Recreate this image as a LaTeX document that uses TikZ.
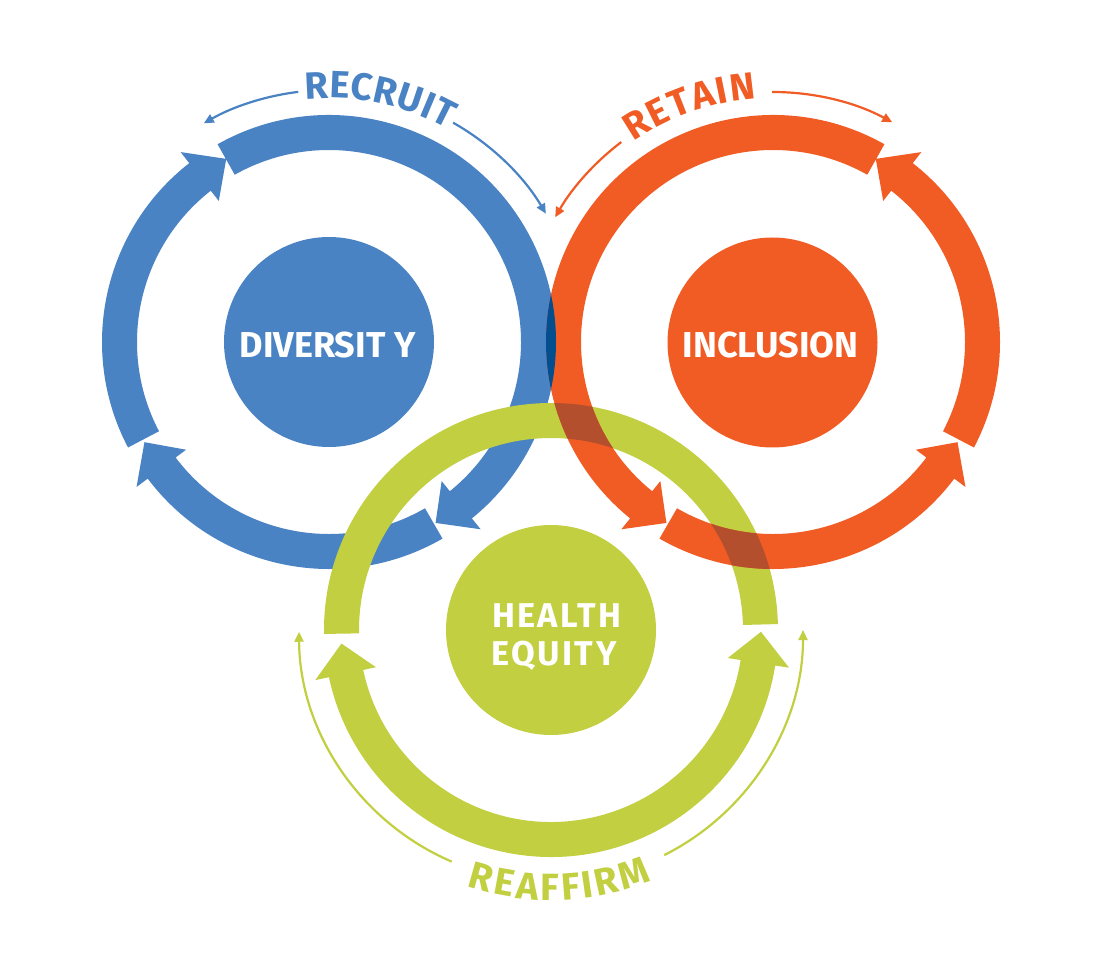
\documentclass[tikz,border=0pt]{standalone}
\usepackage{fontspec}
\setmainfont{Fira Sans}
\usetikzlibrary{arrows.meta}
\definecolor{dblue}{RGB}{74,131,196}
\definecolor{dorange}{RGB}{241,92,37}
\definecolor{dgreen}{RGB}{193,207,64}
\definecolor{dnavy}{RGB}{3,78,142}
\definecolor{dbrown}{RGB}{180,79,46}
\newcommand\lblfont{\fontsize{38}{38}\selectfont\bfseries}
\newcommand\ctrfont{\fontsize{36}{36}\selectfont\bfseries}
\newsavebox\lettbox
\newcommand\lettmeasure[1]{\pgfinterruptpicture\sbox\lettbox{\lblfont #1}\xdef\lwid{\the\wd\lettbox}\endpgfinterruptpicture}
% ring segment with arrowhead: center, start angle, end angle, tip angle
\newcommand\ringseg[4]{([shift={(#1)}]#2:227) arc[start angle=#2,end angle=#3,radius=227] -- ([shift={(#1)}]#3:241) -- ([shift={(#1)}]#4:210) -- ([shift={(#1)}]#3:179) -- ([shift={(#1)}]#3:192) arc[start angle=#3,end angle=#2,radius=192] -- cycle}
\newcommand\bluepath{\ringseg{B}{119.4}{-51}{-59.5} \ringseg{B}{-60}{-143}{-151.5} \ringseg{B}{-152.3}{-232}{-240.7}}
\newcommand\orangepath{\ringseg{O}{60.6}{231}{239.5} \ringseg{O}{240}{323}{331.5} \ringseg{O}{332.3}{412}{420.7}}
\newcommand\greenpath{([shift={(G)}]181:227) arc[start angle=181,end angle=1.5,radius=227] -- ([shift={(G)}]1.5:192) arc[start angle=1.5,end angle=181,radius=192] -- cycle
 ([shift={(G)}]183.7:210) -- ([shift={(G)}]192:179) -- ([shift={(G)}]192:192) arc[start angle=192,end angle=351,radius=192] -- ([shift={(G)}]351:179) -- ([shift={(G)}]359.5:210) -- ([shift={(G)}]351:241) -- ([shift={(G)}]351:227) arc[start angle=351,end angle=192,radius=227] -- ([shift={(G)}]192:241) -- cycle}
% letters of a word along an arc: center, radius, mid angle, tracking, letters, colour, direction (-1 top, +1 bottom)
\newcommand\arcword[7]{%
  \begingroup
  \xdef\ltw{0}%
  \foreach \lt in {#5}{\lettmeasure{\lt}\pgfmathsetmacro\ltmp{\ltw+\lwid+#4}\xdef\ltw{\ltmp}}%
  \pgfmathsetmacro\ltmp{\ltw-#4}\xdef\ltw{\ltmp}%
  \xdef\lcum{0}%
  \foreach \lt [count=\li] in {#5}{%
    \lettmeasure{\lt}%
    \pgfmathsetmacro\lw{\lwid}%
    \pgfmathsetmacro\la{#3+(#7)*(\lcum+\lw/2-\ltw/2)/#2*180/pi}%
    \node[lbl,text=#6,rotate={\la+(#7)*90}] (#1w\li) at ([shift={(#1)}]\la:#2) {\lt};
    \pgfmathsetmacro\ltmp{\lcum+\lw+#4}\xdef\lcum{\ltmp}%
  }%
  \endgroup}
\tikzset{
  thinarr/.style={line width=2.2pt,-{Triangle[length=10pt,width=9pt]}},
  hub/.style={circle,minimum size=210pt,inner sep=0pt},
  hubtext/.style={text=white,font=\ctrfont,inner sep=0pt},
  lbl/.style={font=\lblfont,inner sep=0pt,anchor=center}
}
\begin{document}
\begin{tikzpicture}[x=1pt,y=1pt]
\useasboundingbox (0,0) rectangle (1108,962);
\fill[white] (0,0) rectangle (1108,962);
\coordinate (B) at (329,620);
\coordinate (O) at (773,620);
\coordinate (G) at (551,332);
% rings
\fill[dblue] \bluepath;
\fill[dgreen] \greenpath;
\fill[dorange] \orangepath;
\begin{scope}
  \clip \greenpath;
  \fill[dbrown] \orangepath;
\end{scope}
\begin{scope}
  \clip \bluepath;
  \fill[dnavy] \orangepath;
\end{scope}
% hubs
\node[hub,fill=dblue] (hubB) at (B) {};
\node[hub,fill=dorange] (hubO) at (772.5,619.5) {};
\node[hub,fill=dgreen] (hubG) at (G) {};
\node[hubtext,anchor=base] (tdiv) at (327.5,604) {DIVERSIT Y};
\node[hubtext,anchor=base] (tinc) at (770.5,604.3) {INCLUSION};
\node[hubtext,anchor=base,font=\fontsize{34.4}{34.4}\selectfont\bfseries\addfontfeatures{LetterSpace=7}] (thea) at (556.7,334.3) {HEALTH};
\node[hubtext,anchor=base,font=\fontsize{34.4}{34.4}\selectfont\bfseries\addfontfeatures{LetterSpace=7}] (tequ) at (554,297) {EQUITY};
% thin arrows
\draw[thinarr,dblue] ([shift={(B)}]97:252) arc[start angle=97,end angle=119.8,radius=252];
\draw[thinarr,dblue] ([shift={(B)}]60.5:252) arc[start angle=60.5,end angle=30.6,radius=252];
\draw[thinarr,dorange] ([shift={(O)}]127.2:251) arc[start angle=127.2,end angle=150.2,radius=251];
\draw[thinarr,dorange] ([shift={(O)}]90.2:250) arc[start angle=90.2,end angle=61.5,radius=250];
\draw[thinarr,dgreen] ([shift={(G)}]246.8:252) arc[start angle=246.8,end angle=180.4,radius=252];
\draw[thinarr,dgreen] ([shift={(G)}]296.7:252) arc[start angle=296.7,end angle=360,radius=252];
% curved labels
\arcword{B}{257}{78.25}{1.5}{R,E,C,R,U,I,T}{dblue}{-1}
\arcword{O}{257}{109.35}{3}{R,E,T,A,I,N}{dorange}{-1}
\arcword{G}{257}{271.9}{2}{R,E,A,F,F,I,R,M}{dgreen}{1}
\end{tikzpicture}
\end{document}
